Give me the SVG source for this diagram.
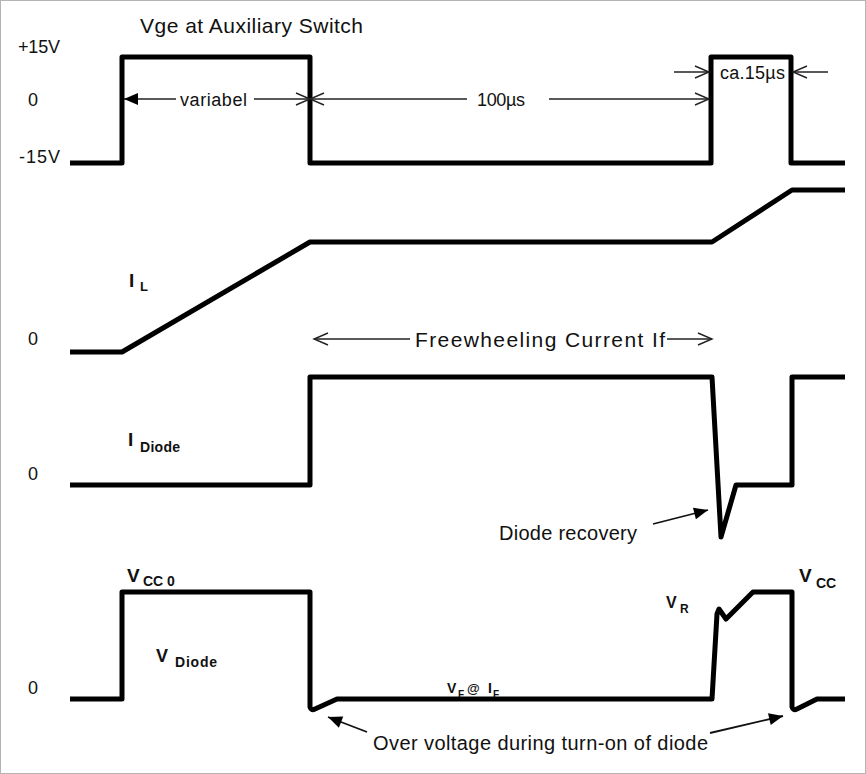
<svg xmlns="http://www.w3.org/2000/svg" width="866" height="774" viewBox="0 0 866 774">
<style>
.wave{fill:none;stroke:#000;stroke-width:5;stroke-linejoin:round;stroke-linecap:butt}
.dim{fill:none;stroke:#222;stroke-width:1.4}
.ptr{fill:none;stroke:#111;stroke-width:1.8}
text{font-family:"Liberation Sans",Arial,sans-serif;fill:#111}
.t{font-size:18px}
.b{font-weight:bold}
</style>
<defs>
<marker id="open" markerUnits="userSpaceOnUse" markerWidth="20" markerHeight="16" viewBox="-15 -8 17 16" refX="0" refY="0" orient="auto">
<path d="M-14,-6 L0,0 L-14,6" fill="none" stroke="#222" stroke-width="1.4"/>
</marker>
<marker id="fill" markerUnits="userSpaceOnUse" markerWidth="20" markerHeight="16" viewBox="-15 -8 17 16" refX="0" refY="0" orient="auto">
<path d="M-14,-6 L0,0 L-14,6 Z" fill="#000"/>
</marker>
</defs>
<rect x="0.5" y="0.5" width="865" height="773" fill="#fff" stroke="#b4b4b4" stroke-width="1"/>

<g id="vge">
<text x="140" y="33" style="font-size:21px" textLength="223">Vge at Auxiliary Switch</text>
<text class="t" x="18" y="53" textLength="42">+15V</text>
<text class="t" x="28" y="106">0</text>
<text class="t" x="19" y="163" textLength="41">-15V</text>
<path class="wave" d="M70,163 H122 V57 H310 V163 H711 V57 H791 V163 H845"/>
<text class="t" x="180" y="106" textLength="67">variabel</text>
<text class="t" x="477" y="106" textLength="48">100µs</text>
<text class="t" x="720" y="79" textLength="65">ca.15µs</text>
</g>

<g id="il">
<text class="b" x="129" y="287" style="font-size:19px">I</text>
<text class="b" x="140" y="291" style="font-size:13px">L</text>
<text class="t" x="28" y="345">0</text>
<path class="wave" d="M70,352 H122 L310,242 H712 L792,190 H845"/>
<text class="t" x="415" y="347" style="font-size:21px" textLength="250">Freewheeling Current If</text>
</g>

<g id="idiode">
<text class="b" x="128" y="446" style="font-size:19px">I</text>
<text class="b" x="140" y="452" style="font-size:14px" textLength="40">Diode</text>
<text class="t" x="28" y="480">0</text>
<path class="wave" d="M70,485 H310 V377 H712 L721,537 L736,485 H792 V377 H845"/>
<text class="t" x="499" y="540" style="font-size:20px" textLength="138">Diode recovery</text>
</g>

<g id="vdiode">
<text class="b" x="127" y="582" style="font-size:19px">V</text>
<text class="b" x="143" y="586" style="font-size:14px">CC 0</text>
<text class="b" x="156" y="662" style="font-size:18px">V</text>
<text class="b" x="175" y="667" style="font-size:14px" textLength="42">Diode</text>
<text class="t" x="28" y="694">0</text>
<text class="b" x="447" y="693" style="font-size:14px">V</text>
<text class="b" x="458" y="698" style="font-size:10px">F</text>
<text class="b" x="467" y="693" style="font-size:13px">@</text>
<text class="b" x="488" y="693" style="font-size:14px">I</text>
<text class="b" x="493" y="698" style="font-size:10px">F</text>
<path class="wave" d="M70,699 H122 V592 H310 V707 Q311,711 315,709 L337,699 H712 L717,614 L719,609 L726,619 L753,592 H792 V707 Q793,711 797,709 L817,699 H845"/>
<text class="b" x="666" y="608" style="font-size:16px">V</text>
<text class="b" x="680" y="613" style="font-size:12px">R</text>
<text class="b" x="799" y="582" style="font-size:19px">V</text>
<text class="b" x="816" y="588" style="font-size:14px">CC</text>
<text class="t" x="373" y="750" style="font-size:20px" textLength="335">Over voltage during turn-on of diode</text>
</g>

<g id="connectors">
<path class="dim" d="M176,99 H124" marker-end="url(#fill)"/>
<path class="dim" d="M254,99 H310" marker-end="url(#open)"/>
<path class="dim" d="M467,99 H310" marker-end="url(#open)"/>
<path class="dim" d="M549,99 H709" marker-end="url(#open)"/>
<path class="dim" d="M674,72 H709" marker-end="url(#open)"/>
<path class="dim" d="M828,72 H793" marker-end="url(#open)"/>
<path class="dim" d="M410,339 H314" marker-end="url(#open)"/>
<path class="dim" d="M667,339 H712" marker-end="url(#open)"/>
<path class="ptr" d="M653,524 L708,510" marker-end="url(#fill)"/>
<path class="ptr" d="M367,732 L328,717" marker-end="url(#fill)"/>
<path class="ptr" d="M710,733 L783,716" marker-end="url(#fill)"/>
</g>
</svg>
